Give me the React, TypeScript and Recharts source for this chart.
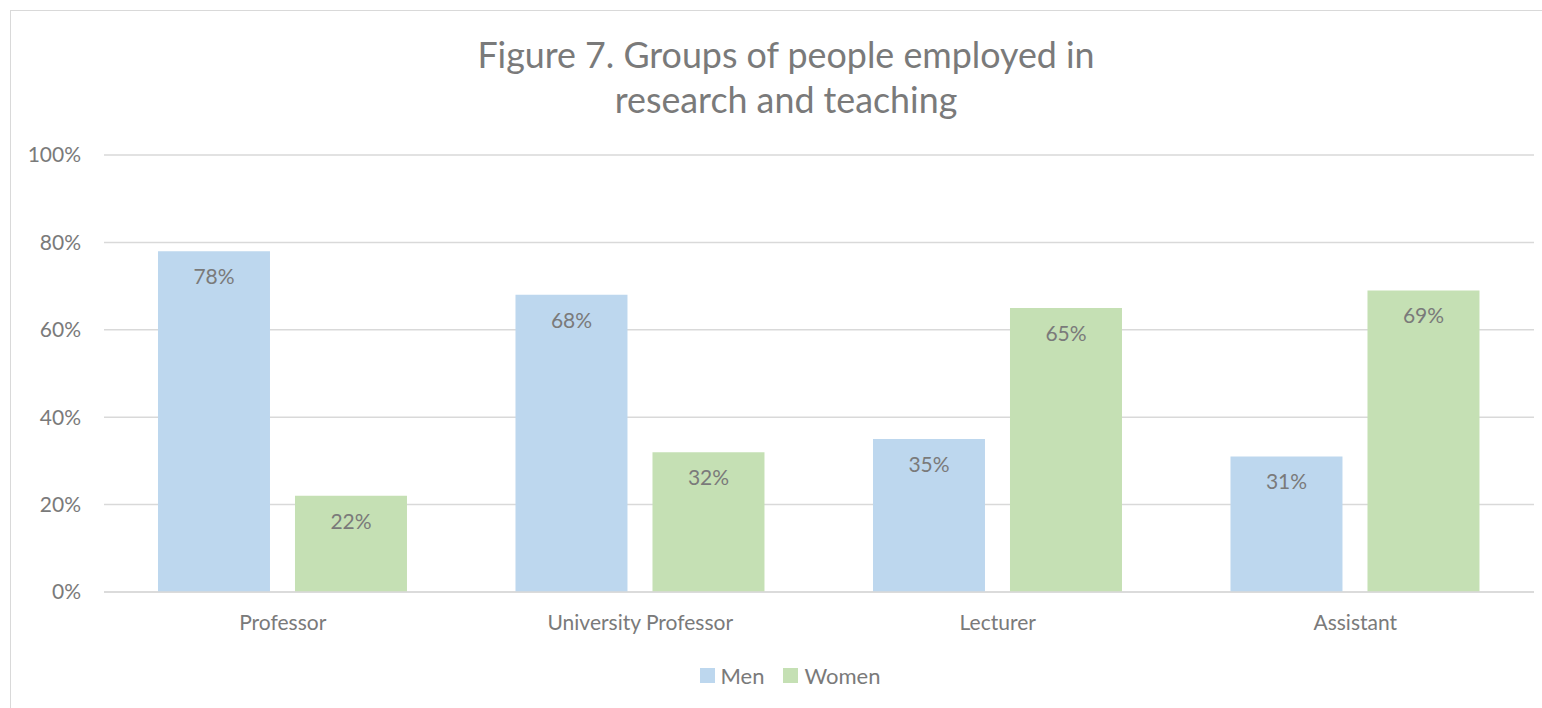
import React from 'react';
import { BarChart, Bar, XAxis, YAxis, CartesianGrid, Legend, LabelList } from 'recharts';

const categories = ['Professor', 'University Professor', 'Lecturer', 'Assistant'];
const men = [78, 68, 35, 31];
const women = [22, 32, 65, 69];
const yTicks = [0, 20, 40, 60, 80, 100];

const data = categories.map((name, i) => ({ name, Men: men[i], Women: women[i] }));

const FONT = 'Lato, "Open Sans", sans-serif';
const TEXT = '#7a7a7a';

const LegendContent = () => (
    <div style={{ display: 'flex', justifyContent: 'center', alignItems: 'center', height: 24, paddingLeft: 46, fontFamily: FONT, fontSize: 22, color: TEXT }}>
        <span style={{ display: 'inline-block', width: 15, height: 15, background: '#bdd7ee', marginRight: 6 }} />
        <span style={{ marginRight: 19 }}>Men</span>
        <span style={{ display: 'inline-block', width: 15, height: 15, background: '#c5e0b4', marginRight: 6 }} />
        <span>Women</span>
    </div>
);

export default function App() {
    return (
        <div style={{ position: 'absolute', left: 0, top: 0, width: 1542, height: 708, background: '#fff', overflow: 'hidden' }}>
            {/* chart frame */}
            <div style={{ position: 'absolute', left: 10, top: 10, width: 1540, height: 710, borderTop: '1px solid #d9d9d9', borderLeft: '1px solid #d9d9d9' }} />

            <div style={{ position: 'absolute', left: 0, top: 32, width: 1572, textAlign: 'center', fontFamily: FONT, fontSize: 35.8, color: TEXT, lineHeight: '45px', fontWeight: 400 }}>
                Figure 7. Groups of people employed in<br />research and teaching
            </div>

            <BarChart
                width={1542}
                height={708}
                data={data}
                margin={{ top: 155, right: 8, bottom: 21, left: 0 }}
                barCategoryGap="15.1%"
                barGap={25}
                style={{ position: 'absolute', left: 0, top: 0 }}
            >
                <CartesianGrid vertical={false} stroke="#d9d9d9" strokeWidth={1.5} />
                <XAxis
                    dataKey="name"
                    height={71}
                    axisLine={{ stroke: '#d9d9d9', strokeWidth: 1.5 }}
                    tickLine={false}
                    tickSize={0}
                    tickMargin={23}
                    tick={{ fill: TEXT, fontSize: 21, fontFamily: FONT }}
                />
                <YAxis
                    width={104}
                    domain={[0, 100]}
                    ticks={yTicks}
                    tickFormatter={(v) => `${v}%`}
                    axisLine={false}
                    tickLine={false}
                    tickSize={0}
                    tickMargin={23}
                    tick={{ fill: TEXT, fontSize: 21, fontFamily: FONT }}
                />
                <Legend verticalAlign="bottom" align="center" content={<LegendContent />} />
                <Bar dataKey="Men" fill="#bdd7ee" isAnimationActive={false}>
                    <LabelList dataKey="Men" position="insideTop" offset={18} formatter={(v: any) => `${v}%`} fill={TEXT} fontSize={21} fontFamily={FONT} />
                </Bar>
                <Bar dataKey="Women" fill="#c5e0b4" isAnimationActive={false}>
                    <LabelList dataKey="Women" position="insideTop" offset={18} formatter={(v: any) => `${v}%`} fill={TEXT} fontSize={21} fontFamily={FONT} />
                </Bar>
            </BarChart>
        </div>
    );
}
